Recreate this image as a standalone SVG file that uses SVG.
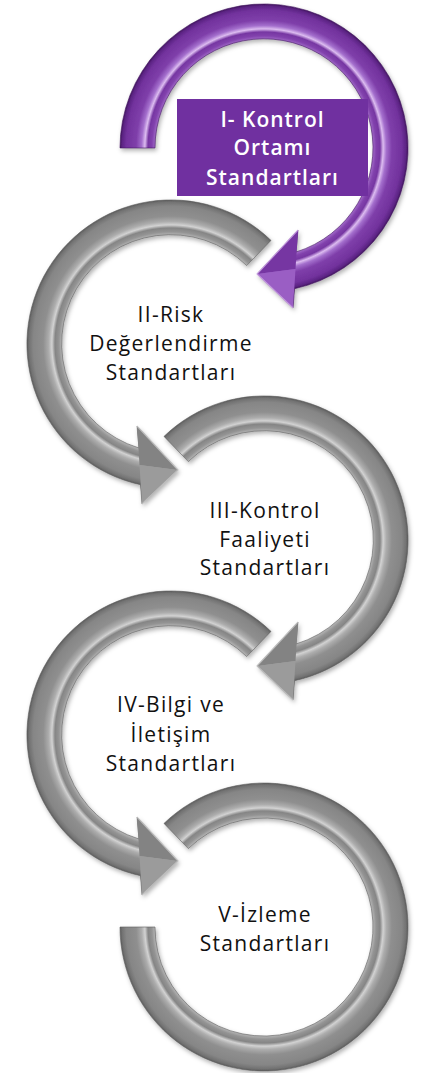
<svg xmlns="http://www.w3.org/2000/svg" width="434" height="1073" viewBox="0 0 434 1073">
  <style>
    .label { font-family: "Open Sans", "Noto Sans", "DejaVu Sans", sans-serif; font-size: 21px; letter-spacing: 1.3px; text-anchor: middle; fill: #111111; }
    .label-inv { font-family: "Open Sans", "Noto Sans", "DejaVu Sans", sans-serif; font-size: 21px; font-weight: 600; letter-spacing: 1px; text-anchor: middle; fill: #ffffff; }
    .ring-gray { fill: url(#gradGray); stroke: #5e5e5e; stroke-width: 0.6; filter: url(#shadow); }
    .ring-purple { fill: url(#gradPurple); stroke: #42155f; stroke-width: 0.6; filter: url(#shadow); }
    .head-gray-a { fill: #838383; }
    .head-gray-b { fill: #9b9b9b; }
    .head-purple-a { fill: #7636a2; }
    .head-purple-b { fill: #9a5ec4; }
    .head-edge-gray { fill: none; stroke: #c9c9c9; stroke-width: 1.2; stroke-linejoin: round; opacity: 0.8; }
    .head-edge-purple { fill: none; stroke: #d3aeea; stroke-width: 1.2; stroke-linejoin: round; opacity: 0.8; }
  </style>
  <defs>
    <!-- Ring bevel profiles: centred on each ring's own origin (paths are drawn relative to the ring centre) -->
    <radialGradient id="gradGray" gradientUnits="userSpaceOnUse" cx="0" cy="0" r="165">
      <stop offset="0.60" stop-color="#878787"/>
      <stop offset="0.661" stop-color="#b4b4b4"/>
      <stop offset="0.680" stop-color="#949494"/>
      <stop offset="0.703" stop-color="#858585"/>
      <stop offset="0.722" stop-color="#d2d2d2"/>
      <stop offset="0.742" stop-color="#adadad"/>
      <stop offset="0.775" stop-color="#8f8f8f"/>
      <stop offset="0.835" stop-color="#868686"/>
      <stop offset="0.860" stop-color="#727272"/>
      <stop offset="0.873" stop-color="#5c5c5c"/>
      <stop offset="1" stop-color="#5c5c5c"/>
    </radialGradient>
    <radialGradient id="gradPurple" gradientUnits="userSpaceOnUse" cx="0" cy="0" r="165">
      <stop offset="0.60" stop-color="#7d3ba8"/>
      <stop offset="0.661" stop-color="#9f68c6"/>
      <stop offset="0.680" stop-color="#8242ad"/>
      <stop offset="0.703" stop-color="#7636a2"/>
      <stop offset="0.722" stop-color="#dcbcf0"/>
      <stop offset="0.742" stop-color="#a46fcd"/>
      <stop offset="0.775" stop-color="#7f3faa"/>
      <stop offset="0.835" stop-color="#72329d"/>
      <stop offset="0.860" stop-color="#5c2484"/>
      <stop offset="0.873" stop-color="#42155e"/>
      <stop offset="1" stop-color="#42155e"/>
    </radialGradient>
    <filter id="shadow" x="-10%" y="-10%" width="125%" height="125%">
      <feDropShadow dx="1.5" dy="2.5" stdDeviation="2" flood-color="#000000" flood-opacity="0.3"/>
    </filter>
  </defs>

  <!-- Step I: purple clockwise arrow with title box -->
  <g id="step1">
    <g transform="translate(264,148)">
      <path class="ring-purple" d="M -144 0 A 144 144 0 1 1 30.5 140.7 L 29 160 L -7 126 L 34 82 L 32 104 A 109 109 0 1 0 -109 0 Z"/>
      <polygon class="head-purple-a" points="34,82 -7,126 31.5,121"/>
      <polygon class="head-purple-b" points="29,160 -7,126 31.5,121"/>
      <polyline class="head-edge-purple" points="34,82 -7,126 29,160"/>
    </g>
    <rect x="177" y="99" width="191" height="97" fill="#7030a0"/>
    <text class="label-inv" x="272.5" y="127">I- Kontrol</text>
    <text class="label-inv" x="272.5" y="155">Ortamı</text>
    <text class="label-inv" x="272.5" y="185">Standartları</text>
  </g>

  <!-- Step II: gray counter-clockwise arrow -->
  <g id="step2">
    <g transform="translate(171,344)">
      <path class="ring-gray" d="M 100 -103.6 A 144 144 0 1 0 -30.5 140.7 L -29 160 L 7 126 L -34 82 L -32 104 A 109 109 0 1 1 75.7 -78.4 Z"/>
      <polygon class="head-gray-a" points="-34,82 7,126 -31.5,121"/>
      <polygon class="head-gray-b" points="-29,160 7,126 -31.5,121"/>
      <polyline class="head-edge-gray" points="-34,82 7,126 -29,160"/>
    </g>
    <text class="label" x="171" y="322">II-Risk</text>
    <text class="label" x="171" y="351">Değerlendirme</text>
    <text class="label" x="171" y="380">Standartları</text>
  </g>

  <!-- Step III: gray clockwise arrow -->
  <g id="step3">
    <g transform="translate(264,540)">
      <path class="ring-gray" d="M -100 -103.6 A 144 144 0 1 1 30.5 140.7 L 29 160 L -7 126 L 34 82 L 32 104 A 109 109 0 1 0 -75.7 -78.4 Z"/>
      <polygon class="head-gray-a" points="34,82 -7,126 31.5,121"/>
      <polygon class="head-gray-b" points="29,160 -7,126 31.5,121"/>
      <polyline class="head-edge-gray" points="34,82 -7,126 29,160"/>
    </g>
    <text class="label" x="265" y="518">III-Kontrol</text>
    <text class="label" x="265" y="547">Faaliyeti</text>
    <text class="label" x="265" y="575">Standartları</text>
  </g>

  <!-- Step IV: gray counter-clockwise arrow -->
  <g id="step4">
    <g transform="translate(171,735)">
      <path class="ring-gray" d="M 100 -103.6 A 144 144 0 1 0 -30.5 140.7 L -29 160 L 7 126 L -34 82 L -32 104 A 109 109 0 1 1 75.7 -78.4 Z"/>
      <polygon class="head-gray-a" points="-34,82 7,126 -31.5,121"/>
      <polygon class="head-gray-b" points="-29,160 7,126 -31.5,121"/>
      <polyline class="head-edge-gray" points="-34,82 7,126 -29,160"/>
    </g>
    <text class="label" x="171" y="712">IV-Bilgi ve</text>
    <text class="label" x="171" y="742">İletişim</text>
    <text class="label" x="171" y="771">Standartları</text>
  </g>

  <!-- Step V: gray open ring, flat ends -->
  <g id="step5">
    <g transform="translate(264,927)">
      <path class="ring-gray" d="M -100 -103.6 A 144 144 0 1 1 -144 0 L -109 0 A 109 109 0 1 0 -75.7 -78.4 Z"/>
    </g>
    <text class="label" x="265" y="922">V-İzleme</text>
    <text class="label" x="265" y="951">Standartları</text>
  </g>

  <!-- The steps chain through their own arrow shapes; no separate connector lines -->
  <g id="connectors"/>
</svg>
